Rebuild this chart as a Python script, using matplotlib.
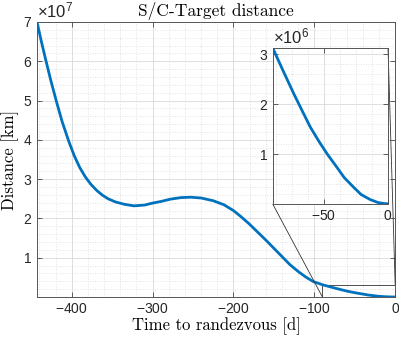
import matplotlib
matplotlib.use("Agg")
import matplotlib.pyplot as plt
from matplotlib.ticker import MultipleLocator, ScalarFormatter, FixedLocator
from mpl_toolkits.axes_grid1.inset_locator import mark_inset

# Main curve: days to rendezvous vs distance [km]
days_main = [-443, -438, -432, -426, -419, -412, -404, -397, -390, -383, -376, -369,
             -362, -355, -346, -335, -323, -310, -300, -290, -278, -265, -253, -240,
             -225, -212, -200, -191, -181, -171, -160, -150, -140, -130, -120, -110,
             -101, -90]
dist_main_1e7 = [7.00, 6.54, 6.02, 5.52, 4.98, 4.47, 3.98, 3.60, 3.29, 3.05, 2.86, 2.71,
                 2.59, 2.50, 2.42, 2.36, 2.32, 2.34, 2.39, 2.43, 2.49, 2.53, 2.54, 2.52,
                 2.45, 2.35, 2.20, 2.05, 1.87, 1.67, 1.45, 1.24, 1.03, 0.82, 0.65, 0.50,
                 0.39, 0.313]
# Final approach (also shown in inset)
days_end = [-90, -82, -73.7, -67, -60.6, -54, -47.4, -40, -34.2, -27, -21, -14, -7.9, -3, 0]
dist_end_1e6 = [3.13, 2.68, 2.22, 1.87, 1.54, 1.26, 1.00, 0.74, 0.53, 0.34, 0.19, 0.09,
                0.03, 0.008, 0.005]

days = days_main + days_end[1:]
dist = [v * 1e7 for v in dist_main_1e7] + [v * 1e6 for v in dist_end_1e6[1:]]

title = "S/C-Target distance"
xlabel = "Time to randezvous [d]"
ylabel = "Distance [km]"

plt.rcParams['font.family'] = ['Liberation Sans', 'DejaVu Sans']
plt.rcParams['axes.unicode_minus'] = False
plt.rcParams['axes.formatter.use_mathtext'] = True
plt.rcParams['mathtext.fontset'] = 'custom'
plt.rcParams['mathtext.rm'] = 'Liberation Sans'

blue = '#0072BD'
axcol = '#262626'

fig = plt.figure(figsize=(3.99, 3.42), dpi=100)
ax = fig.add_axes([0.0927, 0.1316, 0.8977, 0.8041])


def style(a, xmaj, xmin, ymaj, ymin):
    a.xaxis.set_major_locator(FixedLocator(xmaj))
    a.xaxis.set_minor_locator(MultipleLocator(xmin))
    a.yaxis.set_major_locator(FixedLocator(ymaj))
    a.yaxis.set_minor_locator(MultipleLocator(ymin))
    fmt = ScalarFormatter(useMathText=True)
    fmt.set_powerlimits((0, 0))
    a.yaxis.set_major_formatter(fmt)
    a.grid(which='major', color='#d9d9d9', lw=0.6, ls='-')
    a.grid(which='minor', color='#d9d9d9', lw=0.6, ls=(0, (1, 2)))
    a.set_axisbelow(True)
    a.tick_params(which='both', direction='in', top=True, right=True,
                  colors=axcol, labelsize=10, labelcolor='#262626')
    a.tick_params(which='major', length=3.5, width=0.5)
    a.tick_params(which='minor', length=0)
    for s in a.spines.values():
        s.set_color('#555555')
        s.set_linewidth(0.7)
    a.yaxis.get_offset_text().set_fontsize(12)
    a.yaxis.get_offset_text().set_color('#262626')


ax.plot(days, dist, color=blue, lw=2)
ax.set_xlim(-443, 0)
ax.set_ylim(0, 7e7)
style(ax, [-400, -300, -200, -100, 0], 20, [1e7, 2e7, 3e7, 4e7, 5e7, 6e7, 7e7], 2e6)
ax.set_title(title, family='cmr10', fontsize=12.5, pad=4)
ax.set_xlabel(xlabel, family='cmr10', fontsize=12, labelpad=1)
ax.set_ylabel(ylabel, family='cmr10', fontsize=12, labelpad=3)

axins = fig.add_axes([0.6835, 0.4035, 0.2890, 0.4561])
axins.plot(days, dist, color=blue, lw=2)
axins.set_xlim(-90, 0)
axins.set_ylim(0, 3.13e6)
style(axins, [-50, 0], 12.5, [1e6, 2e6, 3e6], 2e5)
axins.set_facecolor('white')

mark_inset(ax, axins, loc1=3, loc2=1, fc='none', ec='#333333', lw=0.6)

fig.savefig('out.png', dpi=100)
